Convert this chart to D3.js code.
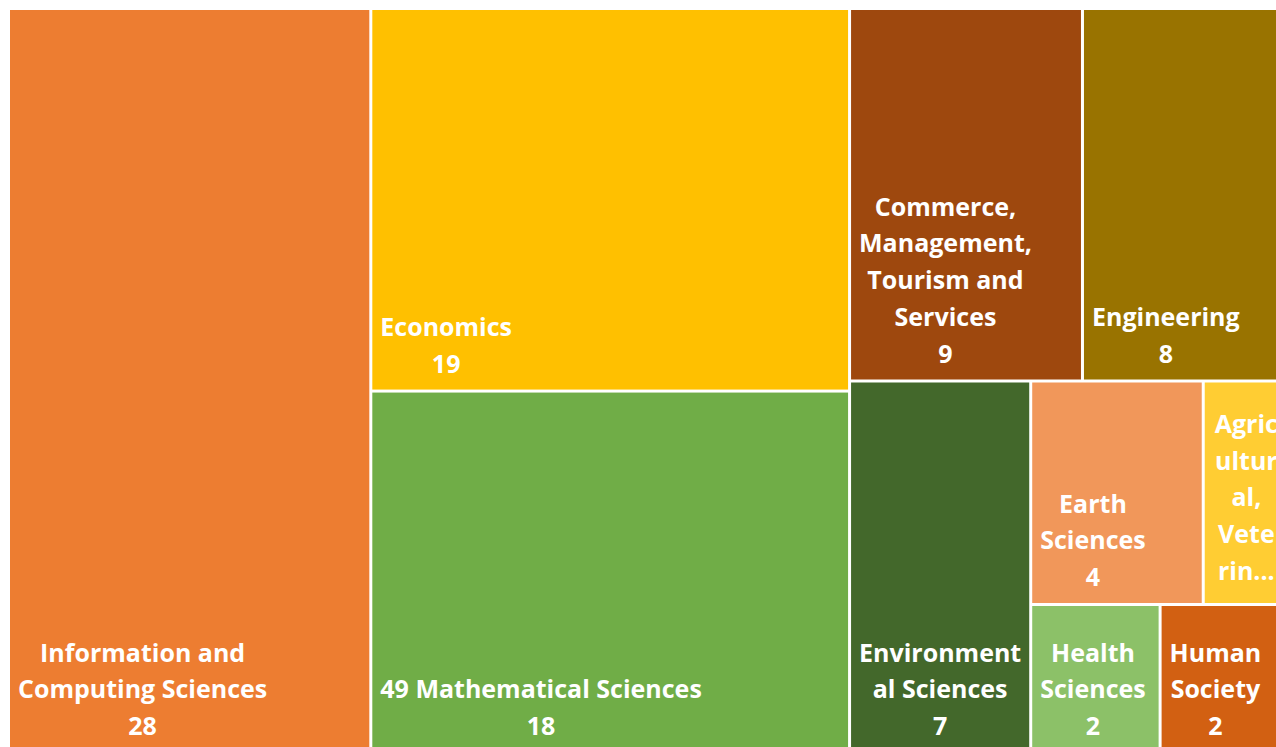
<!DOCTYPE html>
<html>
<head>
<meta charset="utf-8">
<script src="https://cdn.jsdelivr.net/npm/d3@7"></script>
<style>
  html, body { margin: 0; padding: 0; background: #fff; overflow: hidden; }
  svg { display: block; }
  .label { font-family: "Open Sans", sans-serif; font-weight: 700; fill: #fff; }
</style>
</head>
<body>
<div id="chart"></div>
<script>
// Research fields and their counts
const categories = [
    'Information and Computing Sciences',
    'Economics',
    '49 Mathematical Sciences',
    'Commerce, Management, Tourism and Services',
    'Engineering',
    'Environmental Sciences',
    'Earth Sciences',
    'Agricultural, Veterinary and Food Sciences',
    'Health Sciences',
    'Human Society'
];
const values = [28, 19, 18, 9, 8, 7, 4, 2, 2, 2];

// Office palette
const palette = ['#ED7D31', '#FFC000', '#70AD47', '#9E480E', '#997300',
                 '#43682B', '#F1975A', '#FFCD33', '#8CC168', '#D26012'];

// How many tiles go into each strip (Excel-like layout)
const stripSizes = [1, 2, 2, 1, 2, 1, 1];

function createTreemap(containerId = 'chart') {
    const width = 1276, height = 747;
    const box = { x0: 10, y0: 10, x1: 1288, y1: 752 };
    const fontSize = 25, lineStep = 36.7, pad = 8;

    const svg = d3.select(`#${containerId}`)
        .append('svg')
        .attr('width', width)
        .attr('height', height);

    const color = d3.scaleOrdinal(categories, palette);

    const root = d3.hierarchy({ children: categories.map((c, i) => ({ name: c, value: values[i] })) })
        .sum(d => d.value || 0)
        .sort((a, b) => b.value - a.value);

    // Strip tiling: wide area -> column at left, tall area -> row on top
    function stripTile(parent, x0, y0, x1, y1) {
        const nodes = parent.children;
        let remaining = parent.value, i = 0;
        stripSizes.forEach(n => {
            if (i >= nodes.length) return;
            const row = { children: nodes.slice(i, i + n) };
            row.value = d3.sum(row.children, d => d.value);
            if (x1 - x0 < y1 - y0) {
                const y = y0 + (y1 - y0) * row.value / remaining;
                d3.treemapDice(row, x0, y0, x1, y);
                y0 = y;
            } else {
                const x = x0 + (x1 - x0) * row.value / remaining;
                d3.treemapSlice(row, x0, y0, x, y1);
                x0 = x;
            }
            remaining -= row.value;
            i += n;
        });
    }

    d3.treemap()
        .tile(stripTile)
        .size([box.x1 - box.x0, box.y1 - box.y0])
        .paddingInner(3)(root);

    const g = svg.append('g')
        .attr('transform', `translate(${box.x0},${box.y0})`);

    const leaves = g.selectAll('g.leaf')
        .data(root.leaves())
        .enter()
        .append('g')
        .attr('class', 'leaf');

    leaves.append('rect')
        .attr('x', d => d.x0)
        .attr('y', d => d.y0)
        .attr('width', d => d.x1 - d.x0)
        .attr('height', d => d.y1 - d.y0)
        .attr('fill', d => color(d.data.name));

    // Text measuring helper
    const probe = svg.append('text')
        .attr('class', 'label')
        .style('font-size', fontSize + 'px')
        .attr('opacity', 0);
    const measure = s => probe.text(s).node().getComputedTextLength();

    function wrap(text, maxW) {
        const lines = [];
        let cur = '';
        text.split(/\s+/).forEach(w => {
            const trial = cur ? cur + ' ' + w : w;
            if (measure(trial) <= maxW) { cur = trial; return; }
            if (cur) { lines.push(cur); cur = ''; }
            if (measure(w) <= maxW) { cur = w; return; }
            let piece = '';
            for (const ch of w) {
                if (!piece || measure(piece + ch) <= maxW) piece += ch;
                else { lines.push(piece); piece = ch; }
            }
            cur = piece;
        });
        if (cur) lines.push(cur);
        return lines;
    }

    leaves.each(function(d) {
        const w = d.x1 - d.x0, h = d.y1 - d.y0;
        // narrow tiles get a little more inset
        const maxW = w - 14 - 200 / w;
        const maxLines = Math.floor((h - 10) / lineStep);
        let lines = wrap(d.data.name, maxW).concat([String(d.value)]);
        let truncated = false;
        if (lines.length > maxLines) {
            truncated = true;
            lines = lines.slice(0, maxLines);
            let last = lines[maxLines - 1];
            while (last.length && measure(last + '...') > maxW - 8) last = last.slice(0, -1);
            lines[maxLines - 1] = last + '...';
        }
        const blockW = d3.max(lines, measure);
        const cx = truncated ? (d.x0 + d.x1) / 2 : d.x0 + pad + blockW / 2;
        let firstBase;
        if (truncated) {
            firstBase = (d.y0 + d.y1) / 2 - lines.length * lineStep / 2 + 32;
        } else {
            firstBase = d.y1 - 17 - (lines.length - 1) * lineStep;
        }
        const t = d3.select(this).append('text')
            .attr('class', 'label')
            .style('font-size', fontSize + 'px')
            .attr('text-anchor', 'middle');
        lines.forEach((line, i) => {
            t.append('tspan')
                .attr('x', cx)
                .attr('y', firstBase + i * lineStep)
                .text(line);
        });
    });

    probe.remove();
}

createTreemap();
</script>
</body>
</html>
